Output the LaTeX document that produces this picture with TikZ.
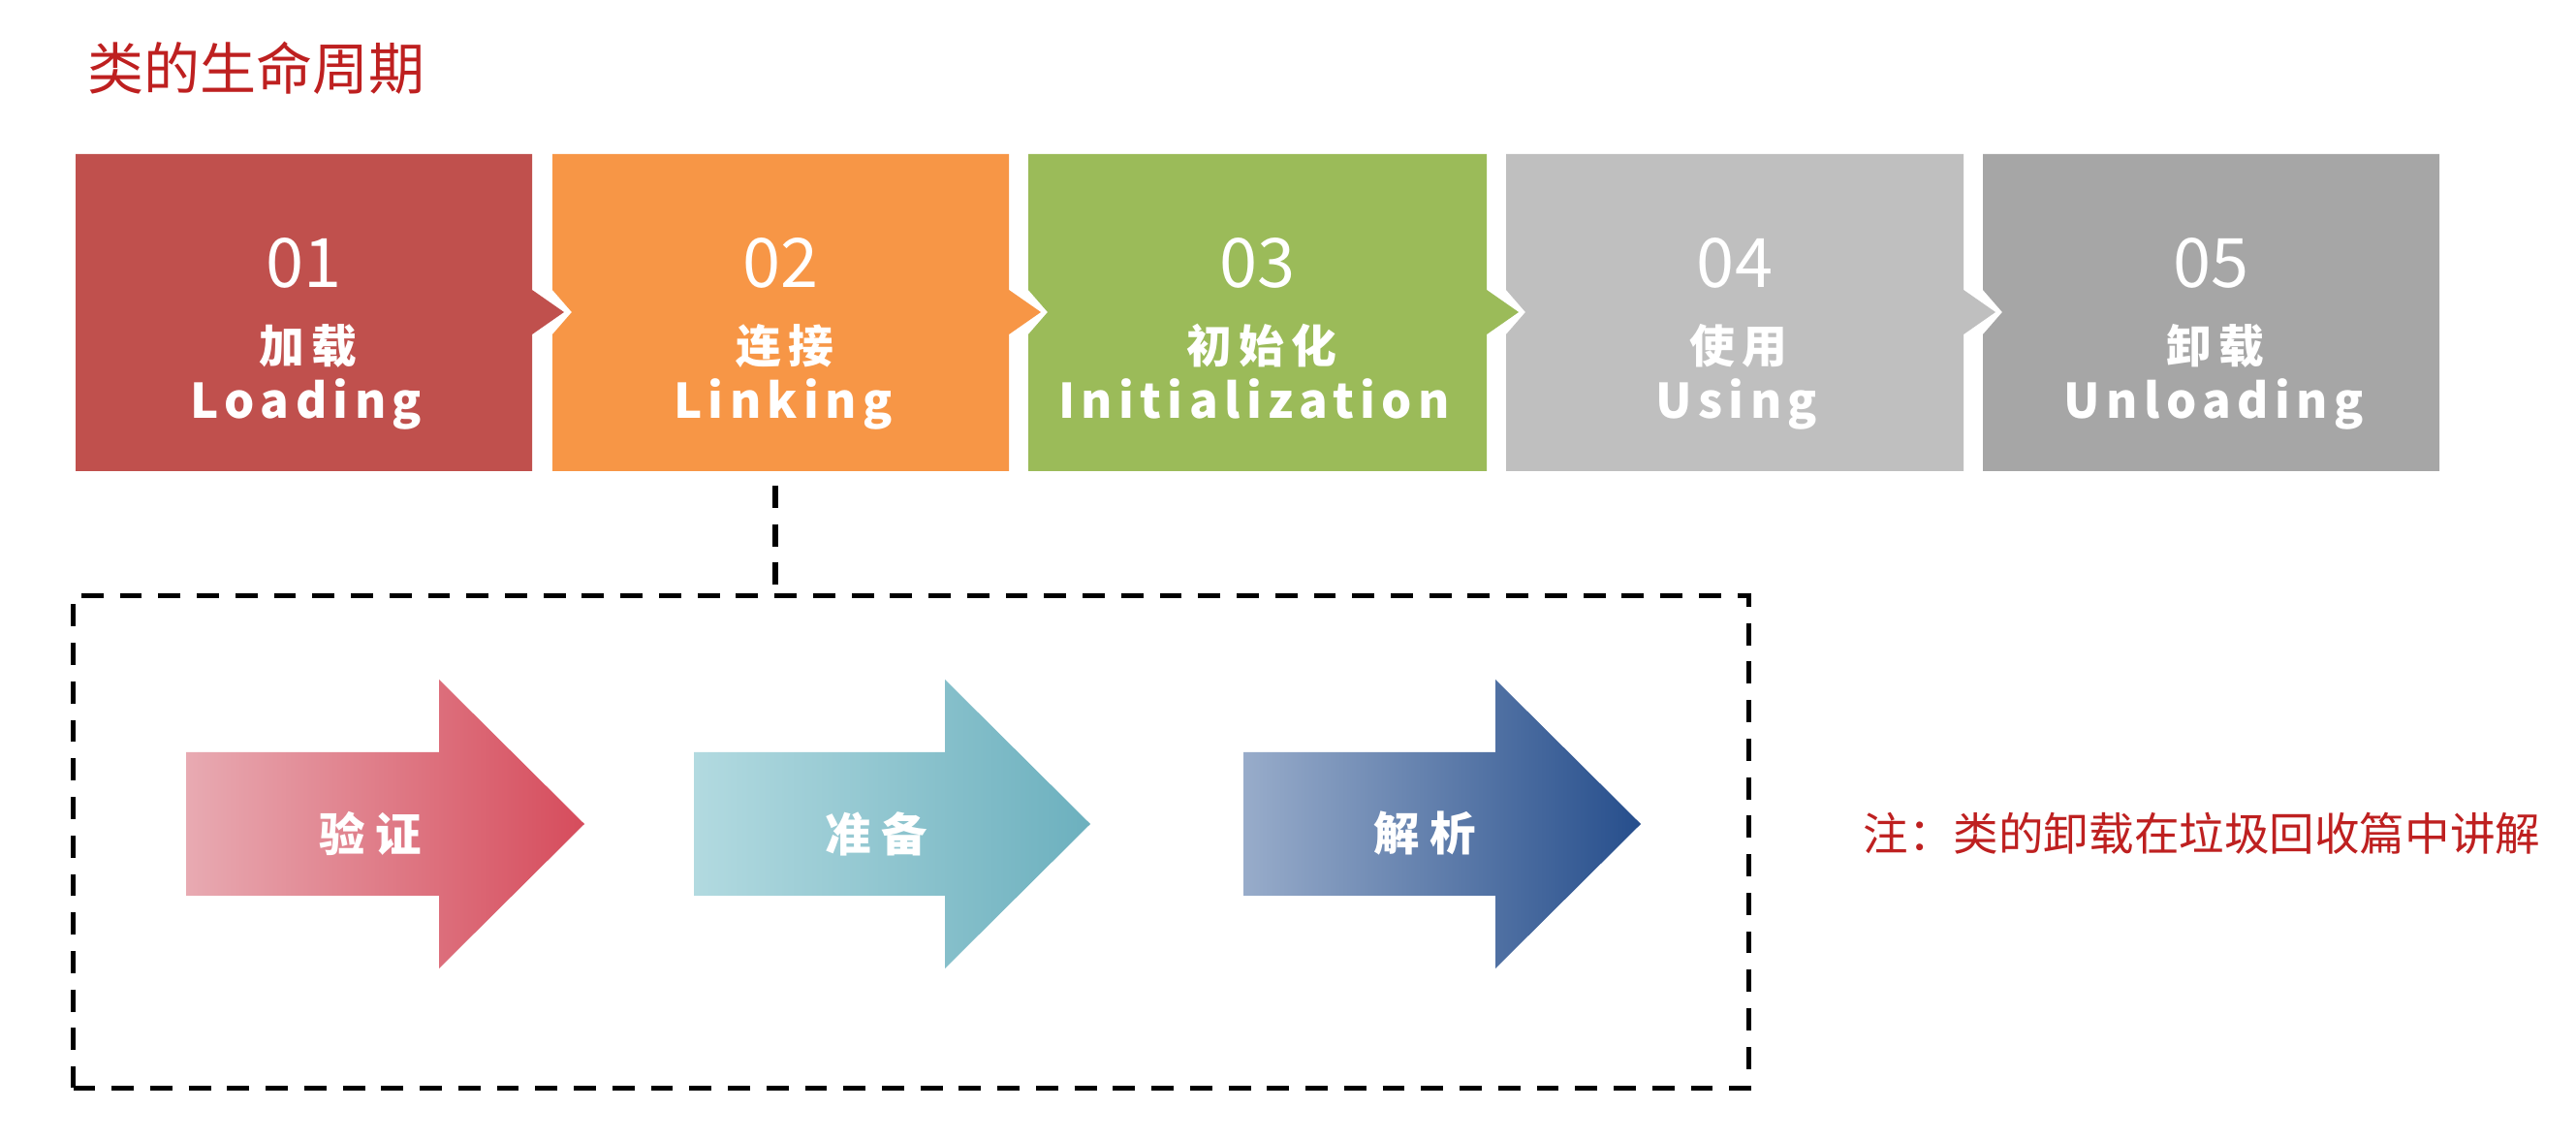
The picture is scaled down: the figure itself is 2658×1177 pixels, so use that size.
\documentclass[tikz,border=0pt]{standalone}
\usepackage{fontspec}
\newfontfamily\cjk{Noto Sans CJK SC}
\newfontfamily\cjkwide[LetterSpace=15]{Noto Sans CJK SC}
\newfontfamily\cjkwideb[LetterSpace=13]{Noto Sans CJK SC}
\newfontfamily\cjkarrow[LetterSpace=22]{Noto Sans CJK SC}
\definecolor{titlered}{RGB}{190,32,32}
\definecolor{cA}{RGB}{192,80,77}
\definecolor{cB}{RGB}{247,150,70}
\definecolor{cC}{RGB}{155,187,89}
\definecolor{cD}{RGB}{191,191,191}
\definecolor{cE}{RGB}{166,166,166}
\definecolor{aAl}{RGB}{232,170,178}
\definecolor{aAr}{RGB}{214,76,92}
\definecolor{aBl}{RGB}{178,218,224}
\definecolor{aBr}{RGB}{108,176,190}
\definecolor{aCl}{RGB}{152,172,202}
\definecolor{aCr}{RGB}{38,78,140}
\begin{document}
\begin{tikzpicture}[x=0.01cm,y=-0.01cm,
  boxframe/.style={minimum width=4.71cm,minimum height=3.27cm,inner sep=0pt},
  numtxt/.style={anchor=base,text=white,font=\cjk\fontsize{20}{24}\selectfont,inner sep=0pt},
  zhtxt/.style={anchor=base,text=white,font=\cjkwide\bfseries\fontsize{13.3}{16}\selectfont,inner sep=0pt},
  entxt/.style={anchor=base,text=white,font=\cjkwideb\bfseries\fontsize{14}{17}\selectfont,inner sep=0pt},
  arrtxt/.style={text=white,font=\cjkarrow\bfseries\fontsize{13.5}{16}\selectfont,inner sep=0pt},
  dashline/.style={draw=black,line width=1.5pt,dash pattern=on 6.5pt off 4.8pt},
  redtxt/.style={anchor=base west,text=titlered,inner sep=0pt}]
\useasboundingbox (0,0) rectangle (2658,1177);
\fill[white] (0,0) rectangle (2658,1177);

% title
\node[redtxt,font=\cjk\fontsize{16.5}{20}\selectfont] (title) at (90,93) {类的生命周期};

% stage boxes (shapes)
\fill[cA] (78,159) -- (549,159) -- (549,299) -- (582,322) -- (549,345) -- (549,486) -- (78,486) -- cycle;
\fill[cB] (570,159) -- (1041,159) -- (1041,299) -- (1074,322) -- (1041,345) -- (1041,486) -- (570,486) -- (570,345) -- (590,322) -- (570,299) -- cycle;
\fill[cC] (1061,159) -- (1534,159) -- (1534,299) -- (1567,322) -- (1534,345) -- (1534,486) -- (1061,486) -- (1061,345) -- (1081,322) -- (1061,299) -- cycle;
\fill[cD] (1554,159) -- (2026,159) -- (2026,299) -- (2059,322) -- (2026,345) -- (2026,486) -- (1554,486) -- (1554,345) -- (1574,322) -- (1554,299) -- cycle;
\fill[cE] (2046,159) -- (2517,159) -- (2517,486) -- (2046,486) -- (2046,345) -- (2066,322) -- (2046,299) -- cycle;

\node[boxframe] (b1) at (313.5,322.5) {};
\node[boxframe] (b2) at (805.5,322.5) {};
\node[boxframe] (b3) at (1297.5,322.5) {};
\node[boxframe] (b4) at (1790,322.5) {};
\node[boxframe] (b5) at (2281.5,322.5) {};

\node[numtxt] (n1) at (313.5,297) {01};
\node[numtxt] (n2) at (805.5,297) {02};
\node[numtxt] (n3) at (1297.5,297) {03};
\node[numtxt] (n4) at (1790,297) {04};
\node[numtxt] (n5) at (2281.5,297) {05};

\node[zhtxt] (z1) at (318,375) {加载};
\node[zhtxt] (z2) at (810,375) {连接};
\node[zhtxt] (z3) at (1302,375) {初始化};
\node[zhtxt] (z4) at (1794,375) {使用};
\node[zhtxt] (z5) at (2286,375) {卸载};

\node[entxt] (e1) at (316,432) {Loading};
\node[entxt] (e2) at (808,432) {Linking};
\node[entxt] (e3) at (1294,432) {Initialization};
\node[entxt] (e4) at (1792,432) {Using};
\node[entxt] (e5) at (2284,432) {Unloading};

% dashed group box and connector
\node[dashline,minimum width=17.28cm,minimum height=5.07cm,inner sep=0pt] (dbox) at (940,868.5) {};
\coordinate (lnk) at (800,501);
\draw[dashline] (lnk) -- (lnk |- dbox.north);

% gradient arrows
\shade[left color=aAl,right color=aAr] (192,776) -- (453,776) -- (453,701) -- (603,850) -- (453,999) -- (453,924) -- (192,924) -- cycle;
\shade[left color=aBl,right color=aBr] (716,776) -- (975,776) -- (975,701) -- (1125,850) -- (975,999) -- (975,924) -- (716,924) -- cycle;
\shade[left color=aCl,right color=aCr] (1283,776) -- (1543,776) -- (1543,701) -- (1693,850) -- (1543,999) -- (1543,924) -- (1283,924) -- cycle;

\node[arrtxt] (v1) at (382,860) {验证};
\node[arrtxt] (v2) at (904,860) {准备};
\node[arrtxt] (v3) at (1470,860) {解析};

% note
\node[redtxt,font=\cjk\fontsize{14}{17}\selectfont] (note) at (1922,878) {\resizebox{6.98cm}{!}{注：类的卸载在垃圾回收篇中讲解}};
\end{tikzpicture}
\end{document}
